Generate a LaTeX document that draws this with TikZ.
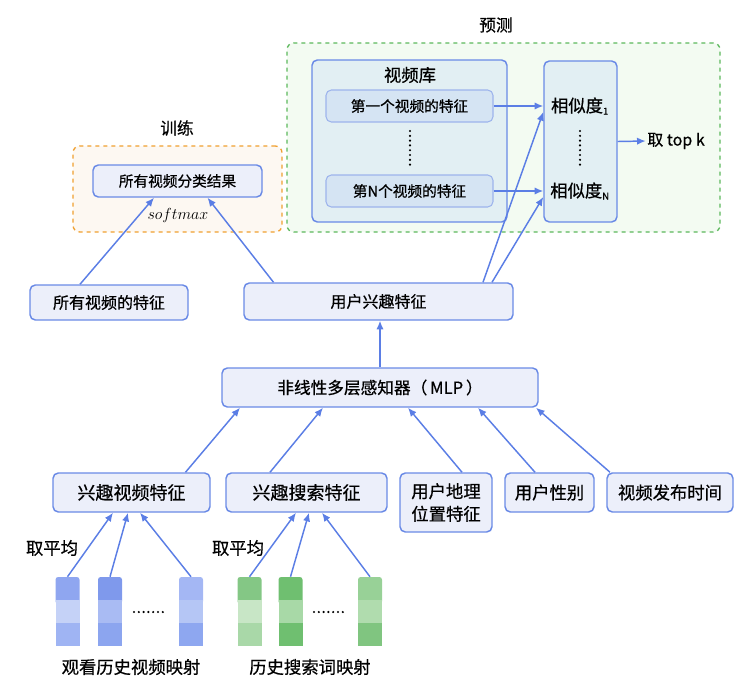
\documentclass[tikz,border=0pt]{standalone}
\usepackage{fontspec}
\setmainfont{Noto Sans CJK SC}[FakeBold=0.6]
\usepackage{tikz}
\usetikzlibrary{arrows.meta, calc}
\definecolor{linkblue}{HTML}{5B7EE5}
\definecolor{boxline}{HTML}{6A8AE6}
\definecolor{boxfill}{HTML}{ECEFFA}
\definecolor{libfill}{HTML}{E2EFF3}
\definecolor{itemfill}{HTML}{D5E4F3}
\definecolor{itemline}{HTML}{9DB4EC}
\definecolor{predline}{HTML}{5CB85C}
\definecolor{predfill}{HTML}{F3FBF2}
\definecolor{trainline}{HTML}{F0A030}
\definecolor{trainfill}{HTML}{FDF8F2}
\tikzset{
  boxsize/.style 2 args={minimum width=#1*0.75pt, minimum height=#2*0.75pt},
  box/.style={draw=boxline, line width=1.1pt, fill=boxfill, rounded corners=4pt,
    inner sep=0pt, align=center, font=\fontsize{12}{16}\selectfont},
  item/.style={draw=itemline, line width=0.8pt, fill=itemfill, rounded corners=4pt,
    inner sep=0pt, font=\fontsize{11}{13}\selectfont},
  group/.style={dashed, line width=1pt, rounded corners=5pt, inner sep=0pt},
  title/.style={font=\fontsize{12.5}{14}\selectfont},
  plain/.style={font=\fontsize{13}{15}\selectfont, inner sep=1pt},
  bar/.style={inner sep=0pt, minimum width=24*0.75pt, minimum height=69*0.75pt},
  link/.style={draw=linkblue, line width=1.1pt, -{Latex[length=6.5pt, width=5.5pt]}},
  dots/.style={line width=1.8pt, line cap=round, dash pattern=on 0pt off 3.6pt}
}

\begin{document}
\begin{tikzpicture}[x=0.75pt, y=-0.75pt]
\useasboundingbox (0,0) rectangle (743,693);

% prediction part
\node[title] (predtitle) at (496,25) {预测};
\node[group, draw=predline, fill=predfill, boxsize={433}{189}] (pred) at (503.5,137.5) {};
\node[box, fill=libfill, boxsize={195}{162}] (lib) at (409.5,141) {};
\node[title, font=\fontsize{13}{15}\selectfont] (libtitle) at (410,75) {视频库};
\node[item, boxsize={167}{32}] (f1) at (409.5,106) {第一个视频的特征};
\node[item, boxsize={167}{32}] (fN) at (409.5,191) {第N个视频的特征};
\draw[dots] (410,131) -- (410,165);
\node[box, fill=libfill, boxsize={73}{161}] (sim) at (580.5,141.5) {};
\node[plain] (s1) at (580,106) {相似度\textsubscript{\fontsize{7}{8}\selectfont 1}};
\node[plain] (sN) at (580,191) {相似度\textsubscript{\fontsize{7}{8}\selectfont N}};
\draw[dots] (580,131) -- (580,165);
\node[plain, font=\fontsize{12}{14}\selectfont] (topk) at (676,141) {取 top k};

% training part
\node[title] (traintitle) at (177,128) {训练};
\node[group, draw=trainline, fill=trainfill, boxsize={209}{86}] (train) at (177.5,189) {};
\node[box, boxsize={169}{32}, font=\fontsize{11}{13}\selectfont] (cls) at (177.5,181) {所有视频分类结果};
\node[font=\fontsize{12}{14}\selectfont] (smax) at (178,215) {$softmax$};

% features
\node[box, boxsize={158}{35}] (allfeat) at (109,302.5) {所有视频的特征};
\node[box, boxsize={269}{37}] (user) at (378.5,301.5) {用户兴趣特征};
\node[box, boxsize={316}{39}, font=\fontsize{12.5}{15}\selectfont] (mlp) at (380,387.5) {非线性多层感知器（\,MLP\,）};

\node[box, boxsize={157}{39}, font=\fontsize{13.5}{16}\selectfont] (vid) at (131.5,492.5) {兴趣视频特征};
\node[box, boxsize={161}{39}, font=\fontsize{13.5}{16}\selectfont] (srch) at (306.5,492.5) {兴趣搜索特征};
\node[box, boxsize={92}{59}, font=\fontsize{13}{17}\selectfont] (geo) at (446,502.5) {用户地理\\位置特征};
\node[box, boxsize={89}{39}, font=\fontsize{13}{16}\selectfont] (gender) at (549.5,492.5) {用户性别};
\node[box, boxsize={126}{39}, font=\fontsize{13}{16}\selectfont] (time) at (670,492.5) {视频发布时间};

% embeddings
\foreach \n/\x/\ca/\cb/\cc in {
  v1/67.5/8FA6F0/C5D2F7/9FB4F3, v2/110/7F99EC/A9BBF3/8CA5EF, v3/191/A4B7F4/B5C6F5/8EA7F0,
  g1/249.5/84C785/C8E6C6/A9D8A8, g2/290.5/6FBF70/A8D9A7/6FBF70, g3/370/98D197/B0DCAE/80C580} {
  \definecolor{segtop}{HTML}{\ca}
  \definecolor{segmid}{HTML}{\cb}
  \definecolor{segbot}{HTML}{\cc}
  \fill[segtop, rounded corners=2pt] (\x-12,577) rectangle (\x+12,604);
  \fill[segmid] (\x-12,600) rectangle (\x+12,623);
  \fill[segbot] (\x-12,623) rectangle (\x+12,646);
  \node[bar] (\n) at (\x,611.5) {};
}
\draw[dots] (134,612) -- (167,612);
\draw[dots] (314,612) -- (347,612);
\node[plain] (avg1) at (52,548) {取平均};
\node[plain] (avg2) at (238,548) {取平均};
\node[plain] (vidmap) at (131,667) {观看历史视频映射};
\node[plain] (srchmap) at (310,667) {历史搜索词映射};

% connectors
\draw[link] (v1.north) -- ($(vid.south)+(-18.5,0)$);
\draw[link] (v2.north) -- ($(vid.south)+(-3.5,0)$);
\draw[link] (v3.north) -- ($(vid.south)+(8.5,0)$);
\draw[link] (g1.north) -- ($(srch.south)+(-10.5,0)$);
\draw[link] (g2.north) -- ($(srch.south)+(2.5,0)$);
\draw[link] (g3.north) -- ($(srch.south)+(15.5,0)$);

\draw[link] ($(vid.north)+(54,0)$) -- ($(mlp.south)+(-140,0)$);
\draw[link] ($(srch.north)+(-36.5,0)$) -- ($(mlp.south)+(-57,0)$);
\draw[link] ($(geo.north)+(16,0)$) -- ($(mlp.south)+(28,0)$);
\draw[link] ($(gender.north)+(-14.5,0)$) -- ($(mlp.south)+(98,0)$);
\draw[link] ($(time.north)+(-60,0)$) -- ($(mlp.south)+(156,0)$);

\draw[link] (mlp.north) -- (mlp.north |- user.south);

\draw[link] ($(allfeat.north)+(-29,0)$) -- ($(cls.south)+(-23.5,0)$);
\draw[link] ($(user.north)+(-105,0)$) -- ($(cls.south)+(30,0)$);

\draw[link] ($(user.north)+(104.5,0)$) -- ($(sim.west)+(0,-29.5)$);
\draw[link] ($(user.north)+(113.5,0)$) -- ($(sim.west)+(0,55.5)$);
\draw[link] (f1.east) -- (f1.east -| sim.west);
\draw[link] (fN.east) -- (fN.east -| sim.west);
\draw[link] (sim.east) -- (topk.west);
\end{tikzpicture}
\end{document}
